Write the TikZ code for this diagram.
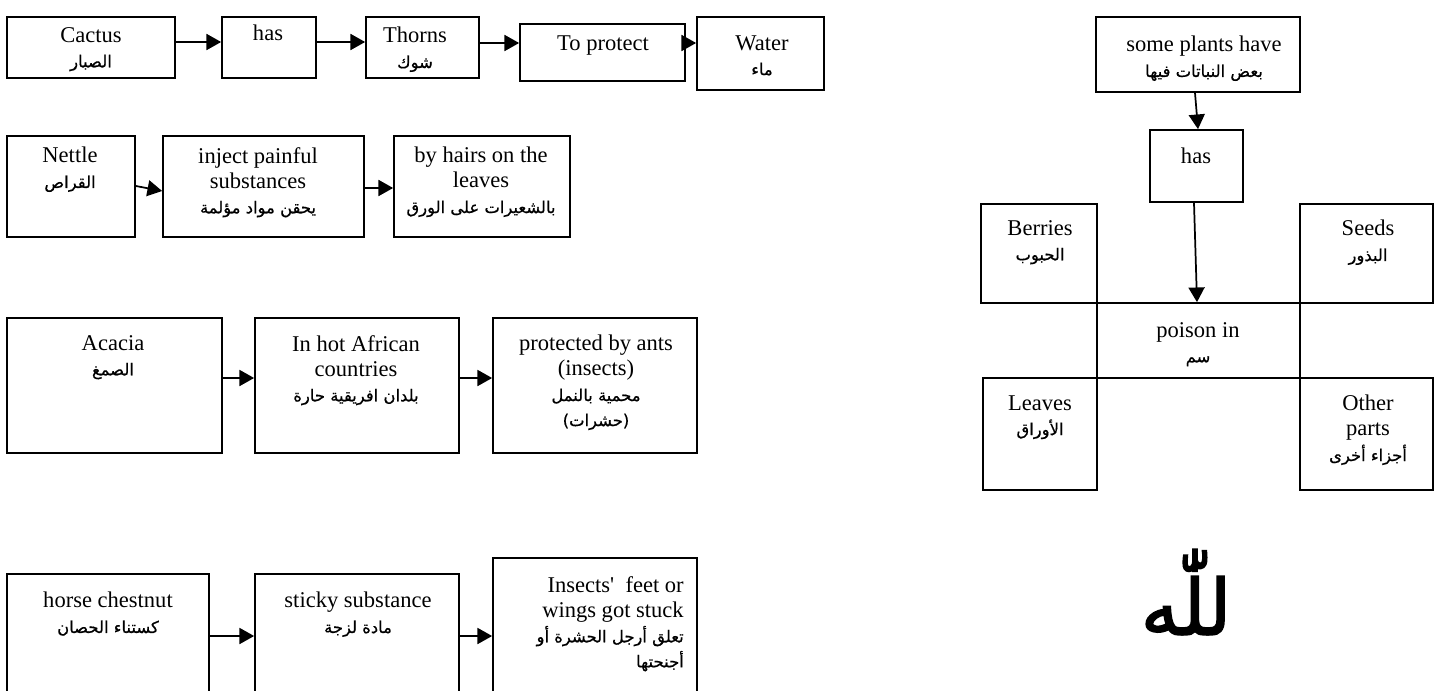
\documentclass[tikz,border=0pt]{standalone}
\usepackage{fontspec}
\setmainfont{Liberation Serif}
\newfontfamily\arabicfont[Script=Arabic,FakeBold=0.6]{DejaVu Sans}
\newfontfamily\allahfont[Script=Arabic,FakeBold=2]{DejaVu Sans}
\TeXXeTstate=1
\usetikzlibrary{arrows.meta,fit}
% one right-to-left Arabic line
\newcommand\artxt[1]{{\arabicfont\fontsize{12.3}{18.8}\selectfont\beginR #1\endR}}

\begin{document}
\begin{tikzpicture}[x=0.75pt,y=-0.75pt,
  box/.style={draw,line width=1.3pt,inner sep=0pt},
  txt/.style={anchor=north,inner sep=0pt,align=center,font=\fontsize{16.9}{18.8}\selectfont},
  arr/.style={line width=1.3pt,-{Triangle[length=11pt,width=12pt]}}]
\useasboundingbox (0,0) rectangle (1442,690);
\clip (0,0) rectangle (1442,690);

% ---- row 1: cactus
\node[box,fit={(7,17) (175,78)}] (cactus) {};
\node[box,fit={(222,17) (316,78)}] (has1) {};
\node[box,fit={(366,17) (479,78)}] (thorns) {};
\node[box,fit={(520,24) (685,81)}] (protect) {};
\node[box,fit={(697,17) (824,90)}] (water) {};
\node[txt] (cactusT) at (91,27) {Cactus\\\artxt{الصبار}};
\node[txt] (has1T) at (268,25) {has};
\node[txt] (thornsT) at (415,27) {Thorns\\\artxt{شوك}};
\node[txt] (protectT) at (603,35) {To protect};
\node[txt] (waterT) at (762,35) {Water\\\artxt{ماء}};
\coordinate (r1) at (0,42);
\coordinate (r1b) at (0,43);
\draw[arr] (cactus.east |- r1) -- (has1.west |- r1);
\draw[arr] (has1.east |- r1) -- (thorns.west |- r1);
\draw[arr] (thorns.east |- r1b) -- (protect.west |- r1b);
\draw[arr] (protect.east |- r1b) -- (water.west |- r1b);

% ---- row 2: nettle
\node[box,fit={(7,136) (135,237)}] (nettle) {};
\node[box,fit={(163,136) (364,237)}] (inject) {};
\node[box,fit={(394,136) (570,237)}] (hairs) {};
\node[txt] (nettleT) at (70,147) {Nettle\\\artxt{القراص}};
\node[txt] (injectT) at (258,147) {inject painful\\substances\\\artxt{يحقن مواد مؤلمة}};
\node[txt] (hairsT) at (481,147) {by hairs on the\\leaves\\\artxt{بالشعيرات على الورق}};
\coordinate (n1) at (0,186);
\coordinate (n2) at (0,191);
\coordinate (n3) at (0,188);
\draw[arr] (nettle.east |- n1) -- (inject.west |- n2);
\draw[arr] (inject.east |- n3) -- (hairs.west |- n3);

% ---- row 3: acacia
\node[box,fit={(7,318) (222,453)}] (acacia) {};
\node[box,fit={(255,318) (459,453)}] (african) {};
\node[box,fit={(493,318) (697,453)}] (ants) {};
\node[txt] (acaciaT) at (113,335) {Acacia\\\artxt{الصمغ}};
\node[txt] (africanT) at (356,335) {In hot African\\countries\\\artxt{بلدان افريقية حارة}};
\node[txt] (antsT) at (596,335) {protected by ants\\(insects)\\\artxt{محمية بالنمل}\\\artxt{(حشرات)}};
\coordinate (r3) at (0,378);
\draw[arr] (acacia.east |- r3) -- (african.west |- r3);
\draw[arr] (african.east |- r3) -- (ants.west |- r3);

% ---- row 4: horse chestnut
\node[box,fit={(7,574) (209,694)}] (chestnut) {};
\node[box,fit={(255,574) (459,694)}] (sticky) {};
\node[box,fit={(493,558) (697,694)}] (stuck) {};
\node[txt] (chestnutT) at (108,592) {horse chestnut\\\artxt{كستناء الحصان}};
\node[txt] (stickyT) at (358,592) {sticky substance\\\artxt{مادة لزجة}};
\node[txt,anchor=north east,align=right] (stuckT) at (684,576) {Insects\textquotesingle\ \ feet or\\wings got stuck\\\artxt{تعلق أرجل الحشرة أو}\\\artxt{أجنحتها}};
\coordinate (r4) at (0,636);
\draw[arr] (chestnut.east |- r4) -- (sticky.west |- r4);
\draw[arr] (sticky.east |- r4) -- (stuck.west |- r4);

% ---- right: poisonous parts
\node[box,fit={(1096,17) (1300,92)}] (plants) {};
\node[box,fit={(1150,130) (1243,202)}] (has2) {};
\node[box,fit={(981,204) (1097,303)}] (berries) {};
\node[box,fit={(1300,204) (1433,303)}] (seeds) {};
\node[box,fit={(1097,303) (1300,378)}] (poison) {};
\node[box,fit={(983,378) (1097,490)}] (leaves) {};
\node[box,fit={(1300,378) (1433,490)}] (other) {};
\node[txt] (plantsT) at (1204,36) {some plants have\\\artxt{بعض النباتات فيها}};
\node[txt] (has2T) at (1196,148) {has};
\node[txt] (berriesT) at (1040,220) {Berries\\\artxt{الحبوب}};
\node[txt] (seedsT) at (1368,220) {Seeds\\\artxt{البذور}};
\node[txt] (poisonT) at (1198,322) {poison in\\\artxt{سم}};
\node[txt] (leavesT) at (1040,395) {Leaves\\\artxt{الأوراق}};
\node[txt] (otherT) at (1368,395) {Other\\parts\\\artxt{أجزاء أخرى}};
\coordinate (p1) at (1195,0);
\coordinate (p2) at (1198,0);
\coordinate (p3) at (1194,0);
\coordinate (p4) at (1197,0);
\draw[arr] (plants.south -| p1) -- (has2.north -| p2);
\draw[arr] (has2.south -| p3) -- (poison.north -| p4);

% ---- the Name
\node[inner sep=0pt] (allah) at (1186,592) {\allahfont\fontsize{58}{58}\selectfont\beginR للّٰه\endR};
\end{tikzpicture}
\end{document}
